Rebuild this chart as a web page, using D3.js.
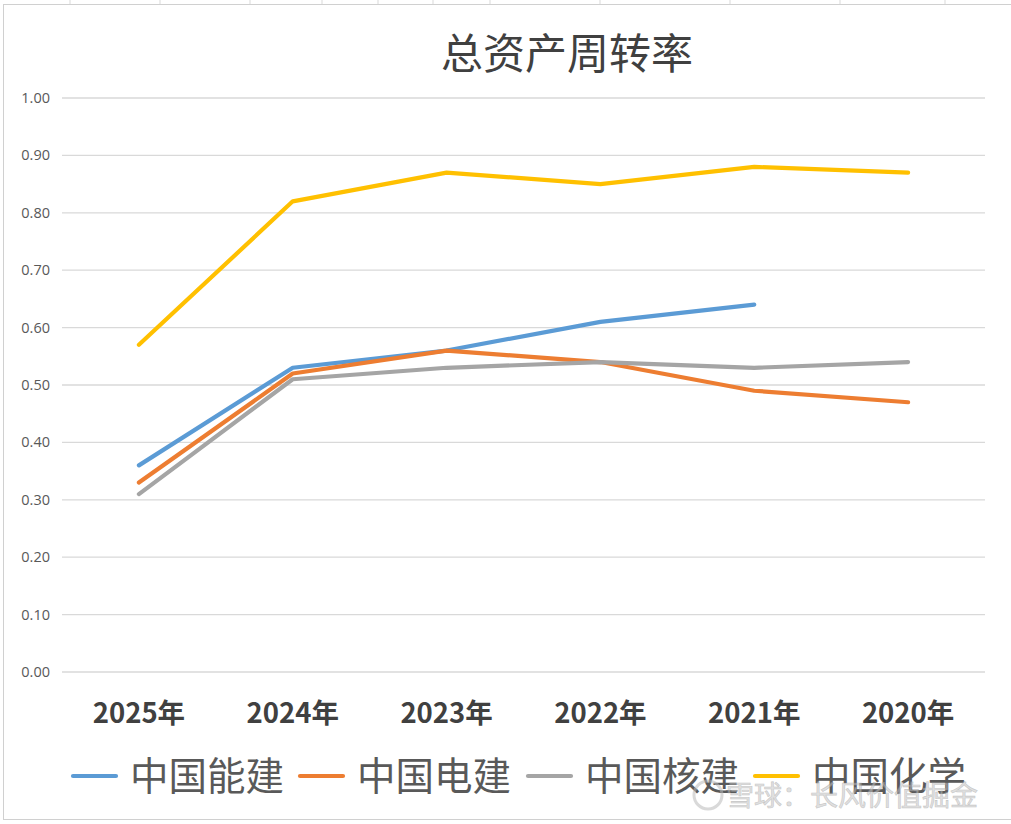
<!DOCTYPE html>
<html>
<head>
<meta charset="utf-8">
<script src="https://cdnjs.cloudflare.com/ajax/libs/d3/7.8.5/d3.min.js"></script>
<style>
  body { margin: 0; background: #fff; }
</style>
</head>
<body>
<svg id="chart"></svg>
<script>
var years = ["2025年", "2024年", "2023年", "2022年", "2021年", "2020年"];
var names = ["中国能建", "中国电建", "中国核建", "中国化学"];
var colors = ["#5B9BD5", "#ED7D31", "#A5A5A5", "#FFC000"];
var nengjian = [0.36, 0.53, 0.56, 0.61, 0.64, null];
var dianjian = [0.33, 0.52, 0.56, 0.54, 0.49, 0.47];
var hejian = [0.31, 0.51, 0.53, 0.54, 0.53, 0.54];
var huaxue = [0.57, 0.82, 0.87, 0.85, 0.88, 0.87];
var yTicks = [0, 0.1, 0.2, 0.3, 0.4, 0.5, 0.6, 0.7, 0.8, 0.9, 1.0];

var series = [nengjian, dianjian, hejian, huaxue];

var screen = { width: 1011, height: 824 };

var svg = d3.select("#chart")
            .attr("width", screen.width)
            .attr("height", screen.height);

// spreadsheet cells behind the chart
var cellX = [70, 160, 250, 322, 378, 433, 490, 600, 730, 840, 945];
svg.selectAll("line.cell")
   .data(cellX)
   .enter()
   .append("line")
   .attr("x1", function(d){ return d; })
   .attr("x2", function(d){ return d; })
   .attr("y1", 0)
   .attr("y2", 4)
   .attr("stroke", "#d9d9d9");

// chart border
svg.append("rect")
   .attr("x", 3.5)
   .attr("y", 4.5)
   .attr("width", 1020)
   .attr("height", 815)
   .attr("fill", "#fff")
   .attr("stroke", "#d0d0d0");

var xScale = d3.scaleBand()
               .domain(years)
               .range([62, 985]);

var yScale = d3.scaleLinear()
               .domain([0, 1])
               .range([672, 98]);

// gridlines
svg.append("g")
   .selectAll("line")
   .data(yTicks)
   .enter()
   .append("line")
   .attr("x1", 62)
   .attr("x2", 985)
   .attr("y1", function(d){ return yScale(d); })
   .attr("y2", function(d){ return yScale(d); })
   .attr("stroke", "#d9d9d9")
   .attr("stroke-width", 1.3);

// y labels
svg.append("g")
   .selectAll("text")
   .data(yTicks)
   .enter()
   .append("text")
   .attr("x", 50)
   .attr("y", function(d){ return yScale(d); })
   .attr("dy", "0.35em")
   .attr("text-anchor", "end")
   .attr("font-family", "Open Sans, Liberation Sans, sans-serif")
   .attr("font-size", 14.5)
   .attr("fill", "#595959")
   .text(function(d){ return d3.format(".2f")(d); });

// x labels
svg.append("g")
   .selectAll("text")
   .data(years)
   .enter()
   .append("text")
   .attr("x", function(d){ return xScale(d) + xScale.bandwidth() / 2; })
   .attr("y", 723)
   .attr("text-anchor", "middle")
   .attr("font-family", "Noto Sans CJK SC, sans-serif")
   .attr("font-weight", "bold")
   .attr("font-size", 27.5)
   .attr("fill", "#404040")
   .text(function(d){ return d; });

// lines
var line = d3.line()
             .defined(function(d){ return d != null; })
             .x(function(d, i){ return xScale(years[i]) + xScale.bandwidth() / 2; })
             .y(function(d){ return yScale(d); });

svg.append("g")
   .selectAll("path")
   .data(series)
   .enter()
   .append("path")
   .attr("d", line)
   .attr("fill", "none")
   .attr("stroke", function(d, i){ return colors[i]; })
   .attr("stroke-width", 4.2)
   .attr("stroke-linecap", "round")
   .attr("stroke-linejoin", "round");

// title
svg.append("text")
   .attr("x", 567)
   .attr("y", 69)
   .attr("text-anchor", "middle")
   .attr("font-family", "Noto Sans CJK SC, sans-serif")
   .attr("font-size", 42)
   .attr("fill", "#404040")
   .text("总资产周转率");

// legend
var legendX = [73, 300, 528, 755];
var legend = svg.append("g")
                .selectAll("g")
                .data(names)
                .enter()
                .append("g")
                .attr("transform", function(d, i){ return "translate(" + legendX[i] + ",776)"; });

legend.append("line")
      .attr("x1", 0)
      .attr("x2", 43)
      .attr("stroke", function(d, i){ return colors[i]; })
      .attr("stroke-width", 4.2)
      .attr("stroke-linecap", "round");

legend.append("text")
      .attr("x", 57)
      .attr("dy", "0.36em")
      .attr("font-family", "Noto Sans CJK SC, sans-serif")
      .attr("font-size", 38.5)
      .attr("fill", "#595959")
      .text(function(d){ return d; });

// watermark
var wm = svg.append("g")
            .attr("opacity", 0.55);
wm.append("circle")
  .attr("cx", 708)
  .attr("cy", 795)
  .attr("r", 14)
  .attr("fill", "none")
  .attr("stroke", "#bbbbbb")
  .attr("stroke-width", 3);
wm.append("text")
  .attr("x", 726)
  .attr("y", 806)
  .attr("font-family", "Noto Sans CJK SC, sans-serif")
  .attr("font-size", 28)
  .attr("fill", "#c8c8c8")
  .attr("stroke", "#999")
  .attr("stroke-width", 0.6)
  .text("雪球：长风价值掘金");
</script>
</body>
</html>
